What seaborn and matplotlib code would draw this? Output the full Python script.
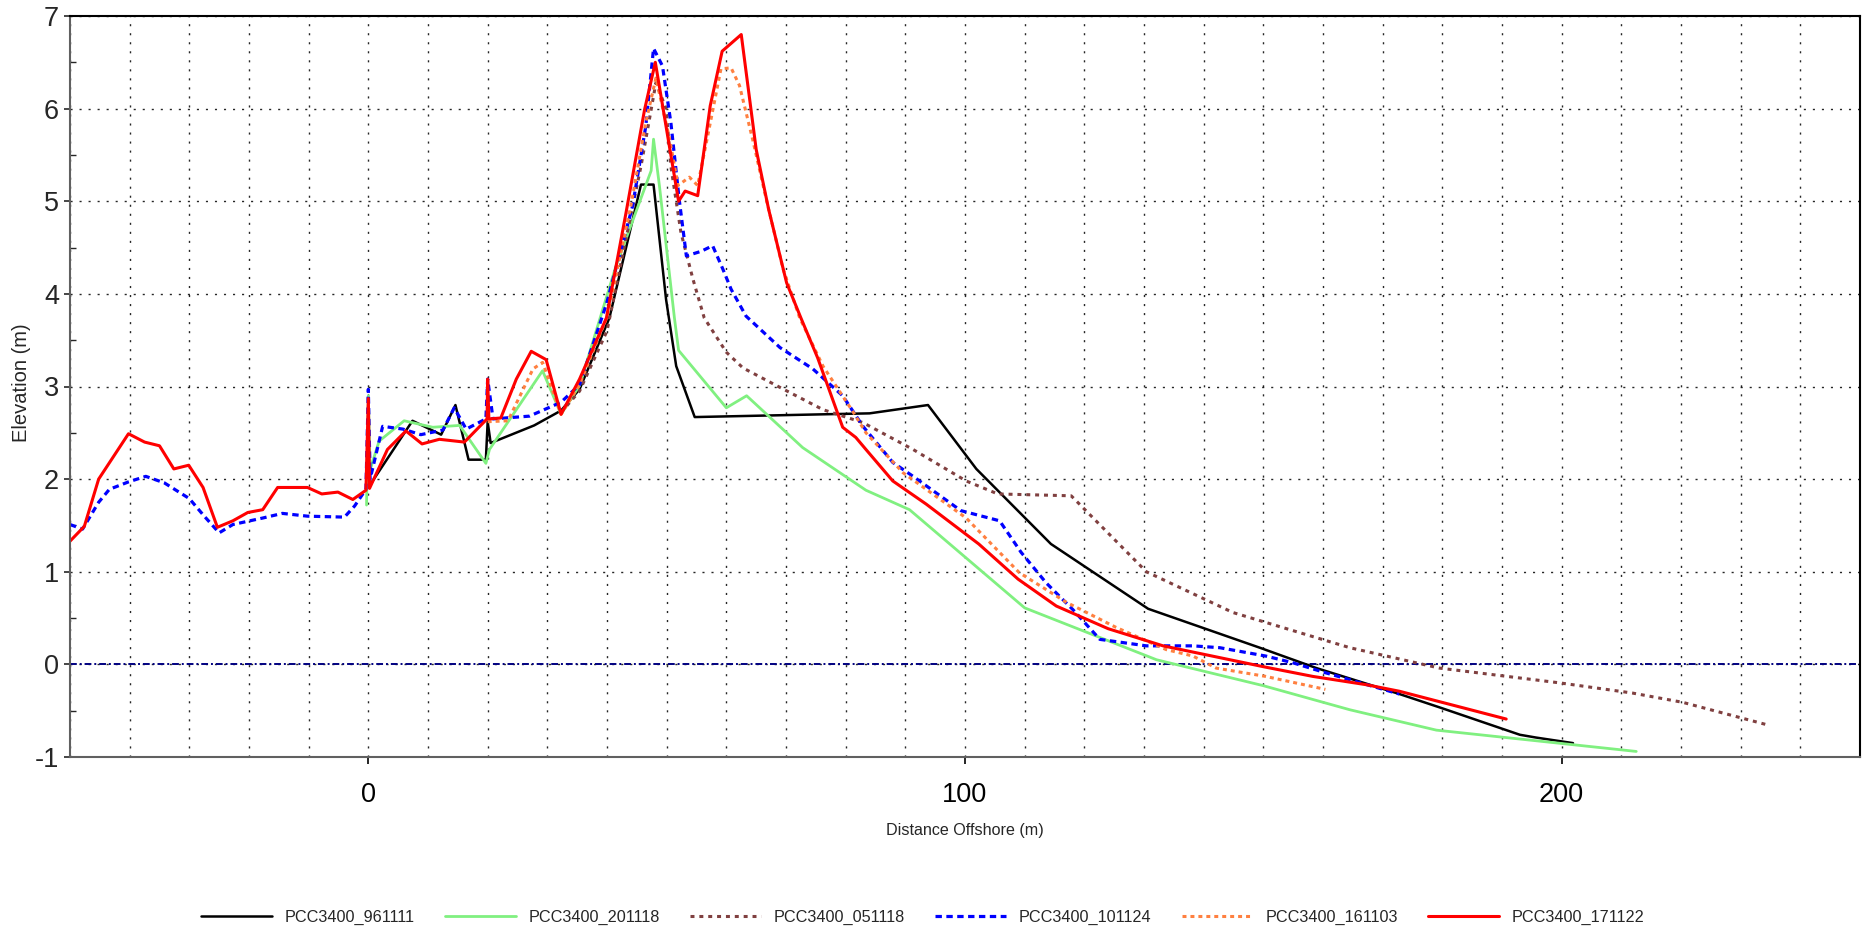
import numpy as np
import pandas as pd
import seaborn as sns
import matplotlib
matplotlib.use("Agg")
import matplotlib.pyplot as plt
from matplotlib import font_manager
from matplotlib.ticker import MultipleLocator, FixedLocator

# ---------------- data ----------------
labels = ["PCC3400_961111", "PCC3400_201118", "PCC3400_051118",
          "PCC3400_101124", "PCC3400_161103", "PCC3400_171122"]

black_x = [0.0, 7.4, 12.2, 14.6, 16.8, 19.7, 20.0, 20.5, 27.8, 32.3, 35.4, 40.4, 45.7, 47.8, 49.9,
           51.6, 54.7, 76.4, 84.0, 93.8, 101.9, 114.4, 130.7, 149.4, 158.9, 172.8, 179.8, 193.0,
           195.7, 201.9]
black_y = [1.91, 2.63, 2.48, 2.80, 2.21, 2.21, 2.62, 2.39, 2.58, 2.74, 2.97, 3.74, 5.18, 5.18, 3.94,
           3.22, 2.67, 2.70, 2.71, 2.80, 2.11, 1.30, 0.60, 0.18, -0.04, -0.32, -0.47, -0.76,
           -0.79, -0.85]

green_x = [-0.3, 0.0, 0.3, 1.8, 6.0, 10.8, 15.3, 19.7, 20.3, 29.2, 32.3, 35.4, 41.5, 47.4, 47.8,
           48.8, 51.3, 52.0, 60.0, 63.4, 72.8, 83.4, 90.7, 110.0, 132.1, 150.0, 164.5, 179.0, 212.5]
green_y = [1.72, 2.90, 2.10, 2.41, 2.63, 2.56, 2.58, 2.17, 2.32, 3.17, 2.70, 3.01, 4.30, 5.33, 5.67,
           5.16, 3.74, 3.39, 2.77, 2.90, 2.34, 1.88, 1.67, 0.61, 0.05, -0.23, -0.49, -0.71, -0.94]

brown_x = [32.3, 35.4, 40.0, 45.7, 47.4, 48.2, 49.9, 50.7, 52.4, 54.4, 56.3, 60.0, 62.8, 69.0, 76.2,
           82.9, 91.3, 100.2, 105.5, 117.8, 130.4, 144.9, 158.8, 164.5, 179.5, 199.7, 211.9,
           220.3, 234.3]
brown_y = [2.72, 2.95, 3.60, 5.38, 5.99, 6.28, 6.00, 5.38, 4.66, 4.16, 3.74, 3.37, 3.20, 2.99, 2.75,
           2.61, 2.32, 1.98, 1.84, 1.82, 1.00, 0.56, 0.29, 0.18, -0.04, -0.20, -0.31, -0.41, -0.65]

blue_x = [-50.0, -47.9, -45.2, -43.4, -40.2, -37.3, -34.2, -30.0, -27.5, -25.0, -22.7, -17.7, -14.4,
          -10.2, -4.0, -2.3, -0.4, 0.0, 0.3, 2.4, 5.8, 8.8, 12.5, 14.4, 16.4, 19.7, 20.0, 20.9, 27.0,
          32.3, 35.4, 39.9, 44.3, 46.5, 47.8, 49.3, 50.7, 52.1, 53.3, 55.8, 57.7, 59.4, 60.8, 63.3,
          69.0, 74.5, 79.5, 82.9, 87.9, 91.3, 99.3, 105.8, 109.4, 113.6, 118.1, 122.6, 130.4, 138.2,
          142.7, 150.4, 154.8, 160.4, 172.8]
blue_y = [1.51, 1.46, 1.75, 1.89, 1.97, 2.03, 1.96, 1.79, 1.60, 1.42, 1.51, 1.58, 1.63,
          1.60, 1.59, 1.71, 1.89, 2.97, 2.00, 2.57, 2.54, 2.48, 2.53, 2.77, 2.54, 2.65, 3.08, 2.65, 2.68,
          2.83, 3.02, 3.89, 4.95, 5.81, 6.65, 6.46, 5.85, 5.02, 4.41, 4.46, 4.52, 4.27, 4.05, 3.76,
          3.42, 3.19, 2.90, 2.57, 2.18, 2.03, 1.66, 1.55, 1.21, 0.88, 0.59, 0.27, 0.20, 0.20,
          0.18, 0.09, 0.02, -0.09, -0.32]

orange_x = [20.0, 23.4, 27.6, 29.2, 32.3, 35.4, 40.0, 44.0, 46.5, 48.2, 50.5, 51.9, 53.8, 55.2, 57.2,
            59.1, 60.8, 62.2, 64.4, 66.7, 69.5, 72.3, 76.2, 81.3, 83.4, 89.6, 100.2, 109.1, 117.0,
            125.3, 133.7, 138.2, 142.1, 150.4, 160.4]
orange_y = [2.62, 2.63, 3.19, 3.26, 2.70, 3.02, 3.75, 4.95, 5.85, 6.33, 5.67, 5.17, 5.26, 5.17, 5.81,
            6.43, 6.44, 6.25, 5.67, 5.02, 4.27, 3.74, 3.22, 2.72, 2.50, 2.07, 1.58, 0.99, 0.67,
            0.40, 0.16, 0.09, -0.04, -0.13, -0.27]

red_x = [-50.0, -47.6, -45.2, -40.2, -37.5, -35.0, -32.6, -30.1, -27.7, -25.3, -22.7, -20.2, -17.7,
         -15.2, -10.2, -7.8, -5.1, -2.6, -0.4, 0.0, 0.2, 3.2, 6.3, 9.0, 11.9, 16.1, 19.9, 20.0, 20.2,
         22.2, 24.8, 27.3, 29.8, 32.3, 35.4, 39.9, 43.2, 46.3, 48.1, 52.0, 53.1, 55.2, 57.3, 59.3,
         62.5, 65.0, 67.1, 70.1, 72.5, 75.3, 79.5, 81.7, 83.4, 87.9, 93.5, 102.3, 108.9, 115.3,
         124.0, 133.2, 150.0, 158.3, 167.3, 172.8, 190.7]
red_y = [1.33, 1.49, 2.00, 2.49, 2.40, 2.36, 2.11, 2.15, 1.91, 1.48, 1.55, 1.64, 1.67,
         1.91, 1.91, 1.84, 1.86, 1.78, 1.88, 2.87, 1.90, 2.32, 2.52, 2.38, 2.43, 2.40, 2.65, 3.08, 2.65,
         2.66, 3.08, 3.38, 3.29, 2.70, 3.08, 3.74, 4.88, 5.99, 6.50, 5.00, 5.11, 5.06, 6.03, 6.62,
         6.80, 5.56, 4.91, 4.12, 3.74, 3.31, 2.56, 2.45, 2.32, 1.98, 1.73, 1.30, 0.92, 0.63,
         0.385, 0.20, -0.025, -0.13, -0.22, -0.29, -0.59]

x_ticks = [0, 100, 200]
y_ticks = [-1, 0, 1, 2, 3, 4, 5, 6, 7]

# ---------------- style ----------------
sns.set_style("white")
names = {f.name for f in font_manager.fontManager.ttflist}
fam = "Liberation Sans" if "Liberation Sans" in names else "DejaVu Sans"
plt.rcParams["font.family"] = [fam, "DejaVu Sans"]
plt.rcParams["axes.unicode_minus"] = False

W, H = 1868, 933
fig = plt.figure(figsize=(W / 100, H / 100), dpi=100)
ax = fig.add_axes([70 / W, 1 - 757 / H, 1790 / W, 741 / H])

series = [
    (black_x, black_y, "#000000", 1.8, "-"),
    (green_x, green_y, "#80f080", 2.0, "-"),
    (brown_x, brown_y, "#804040", 2.2, (0, (1.3, 1.6))),
    (blue_x, blue_y, "#0000ff", 2.3, (0, (2.0, 1.4))),
    (orange_x, orange_y, "#ff8040", 2.2, (0, (1.3, 1.3))),
    (red_x, red_y, "#ff0000", 2.2, "-"),
]
for (sx, sy, col, lw, ls), lab in zip(series, labels):
    df = pd.DataFrame({"x": sx, "y": sy})
    sns.lineplot(data=df, x="x", y="y", ax=ax, color=col, lw=lw, linestyle=ls,
                 sort=False, estimator=None, label=lab)

ax.axhline(0, color="#000080", lw=1.4, linestyle=(0, (3.5, 1.5, 1, 1.5)), zorder=1.5)

ax.set_xlim(-50, 250)
ax.set_ylim(-1, 7)
ax.xaxis.set_major_locator(FixedLocator(x_ticks))
ax.xaxis.set_minor_locator(MultipleLocator(10))
ax.yaxis.set_major_locator(FixedLocator(y_ticks))
ax.yaxis.set_minor_locator(MultipleLocator(0.5))

grid_kw = dict(color="black", lw=1.0, linestyle=(0, (1.5, 5)), alpha=0.85)
ax.grid(True, which="both", axis="x", **grid_kw)
ax.grid(True, which="major", axis="y", **grid_kw)
ax.set_axisbelow(True)

ax.tick_params(axis="x", which="major", direction="out", length=5, width=1.2,
               labelsize=19.5, pad=13, colors="black", bottom=True)
ax.tick_params(axis="x", which="minor", length=0)
ax.tick_params(axis="y", which="major", direction="out", length=4, width=1.2,
               labelsize=19.5, pad=4, left=True)
ax.tick_params(axis="y", which="minor", direction="in", length=4, width=1.0, left=True)

for s in ["top", "right"]:
    ax.spines[s].set_color("black")
    ax.spines[s].set_linewidth(1.5)
for s in ["left", "bottom"]:
    ax.spines[s].set_color("#606060")
    ax.spines[s].set_linewidth(1.5)

ax.set_xlabel("Distance Offshore (m)", fontsize=11.6, va="center")
ax.xaxis.set_label_coords(0.5, -(830 - 757) / 741)
ax.set_ylabel("Elevation (m)", fontsize=14.5, va="center")
ax.yaxis.set_label_coords(-0.027, 0.505)

handles, labs = ax.get_legend_handles_labels()
if ax.get_legend() is not None:
    ax.get_legend().remove()
fig.legend(handles, labs, loc="center", bbox_to_anchor=(0.494, 1 - 917 / H), ncol=6,
           frameon=False, fontsize=11.7, handlelength=4.35, handletextpad=0.8,
           columnspacing=1.85)

fig.savefig("out.png", dpi=100, facecolor="white")
